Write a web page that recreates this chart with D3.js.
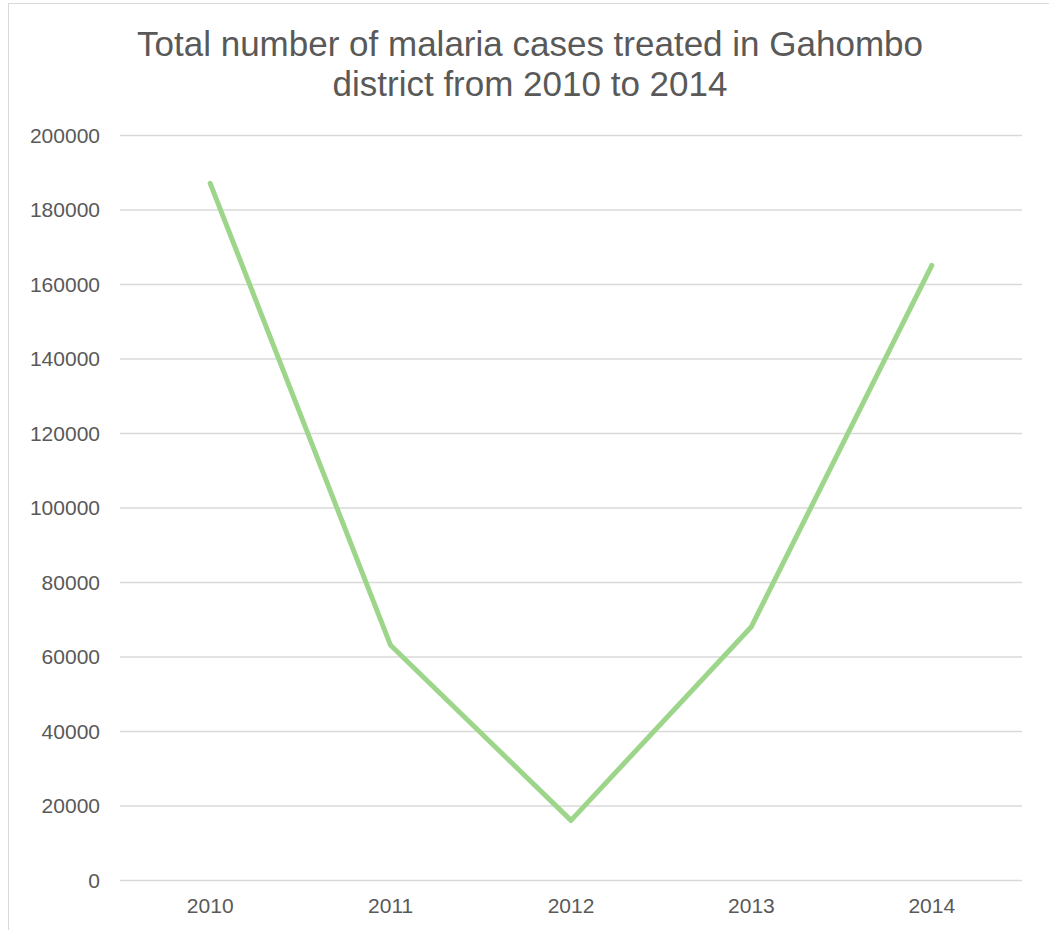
<!DOCTYPE html>
<html>
<head>
<meta charset="utf-8">
<script src="https://cdn.jsdelivr.net/npm/d3@7"></script>
<style>
  html, body { margin: 0; padding: 0; background: #fff; }
  svg { display: block; }
</style>
</head>
<body>
<svg id="chart" width="1049" height="930"></svg>
<script>
// Malaria cases treated per year
const years = ["2010", "2011", "2012", "2013", "2014"];
const cases = [187000, 63000, 16000, 68000, 165000];
const yTicks = [0, 20000, 40000, 60000, 80000, 100000, 120000, 140000, 160000, 180000, 200000];
const titleLines = ["Total number of malaria cases treated in Gahombo", "district from 2010 to 2014"];

const svg = d3.select("#chart");
const W = 1049, H = 930;
const plot = { left: 120, right: 1022, top: 135, bottom: 880 };
const font = "'Liberation Sans', Arial, Helvetica, sans-serif";

// chart frame
svg.append("rect")
  .attr("x", 8.5).attr("y", 3.5)
  .attr("width", W + 10).attr("height", H + 10)
  .attr("fill", "#fff")
  .attr("stroke", "#d9d9d9").attr("stroke-width", 1);

const x = d3.scaleBand().domain(years).range([plot.left, plot.right]);
const y = d3.scaleLinear().domain([0, 200000]).range([plot.bottom, plot.top]);

// horizontal gridlines + value labels
const yAxis = d3.axisLeft(y).tickValues(yTicks).tickSize(-(plot.right - plot.left)).tickPadding(20).tickFormat(d3.format("d"));
const gy = svg.append("g").attr("transform", `translate(${plot.left},0)`).call(yAxis);
gy.select(".domain").remove();
gy.selectAll(".tick line").attr("stroke", "#d9d9d9").attr("stroke-width", 1.3);
gy.selectAll(".tick text")
  .attr("fill", "#595959").attr("font-family", font).attr("font-size", 21)
  .attr("dy", "0.35em");

// category labels
const xAxis = d3.axisBottom(x).tickSize(0).tickPadding(18);
const gx = svg.append("g").attr("transform", `translate(0,${plot.bottom})`).call(xAxis);
gx.select(".domain").remove();
gx.selectAll(".tick text")
  .attr("fill", "#595959").attr("font-family", font).attr("font-size", 21);

// series line
const line = d3.line()
  .x((d, i) => x(years[i]) + x.bandwidth() / 2)
  .y(d => y(d));
svg.append("path")
  .datum(cases)
  .attr("d", line)
  .attr("fill", "none")
  .attr("stroke", "#9dd68a")
  .attr("stroke-width", 5)
  .attr("stroke-linecap", "round")
  .attr("stroke-linejoin", "round");

// title
svg.append("text")
  .attr("x", 530).attr("y", 56)
  .attr("text-anchor", "middle")
  .attr("fill", "#595959").attr("font-family", font).attr("font-size", 35)
  .selectAll("tspan").data(titleLines).join("tspan")
  .attr("x", 530).attr("dy", (d, i) => i === 0 ? 0 : 40)
  .text(d => d);
</script>
</body>
</html>
